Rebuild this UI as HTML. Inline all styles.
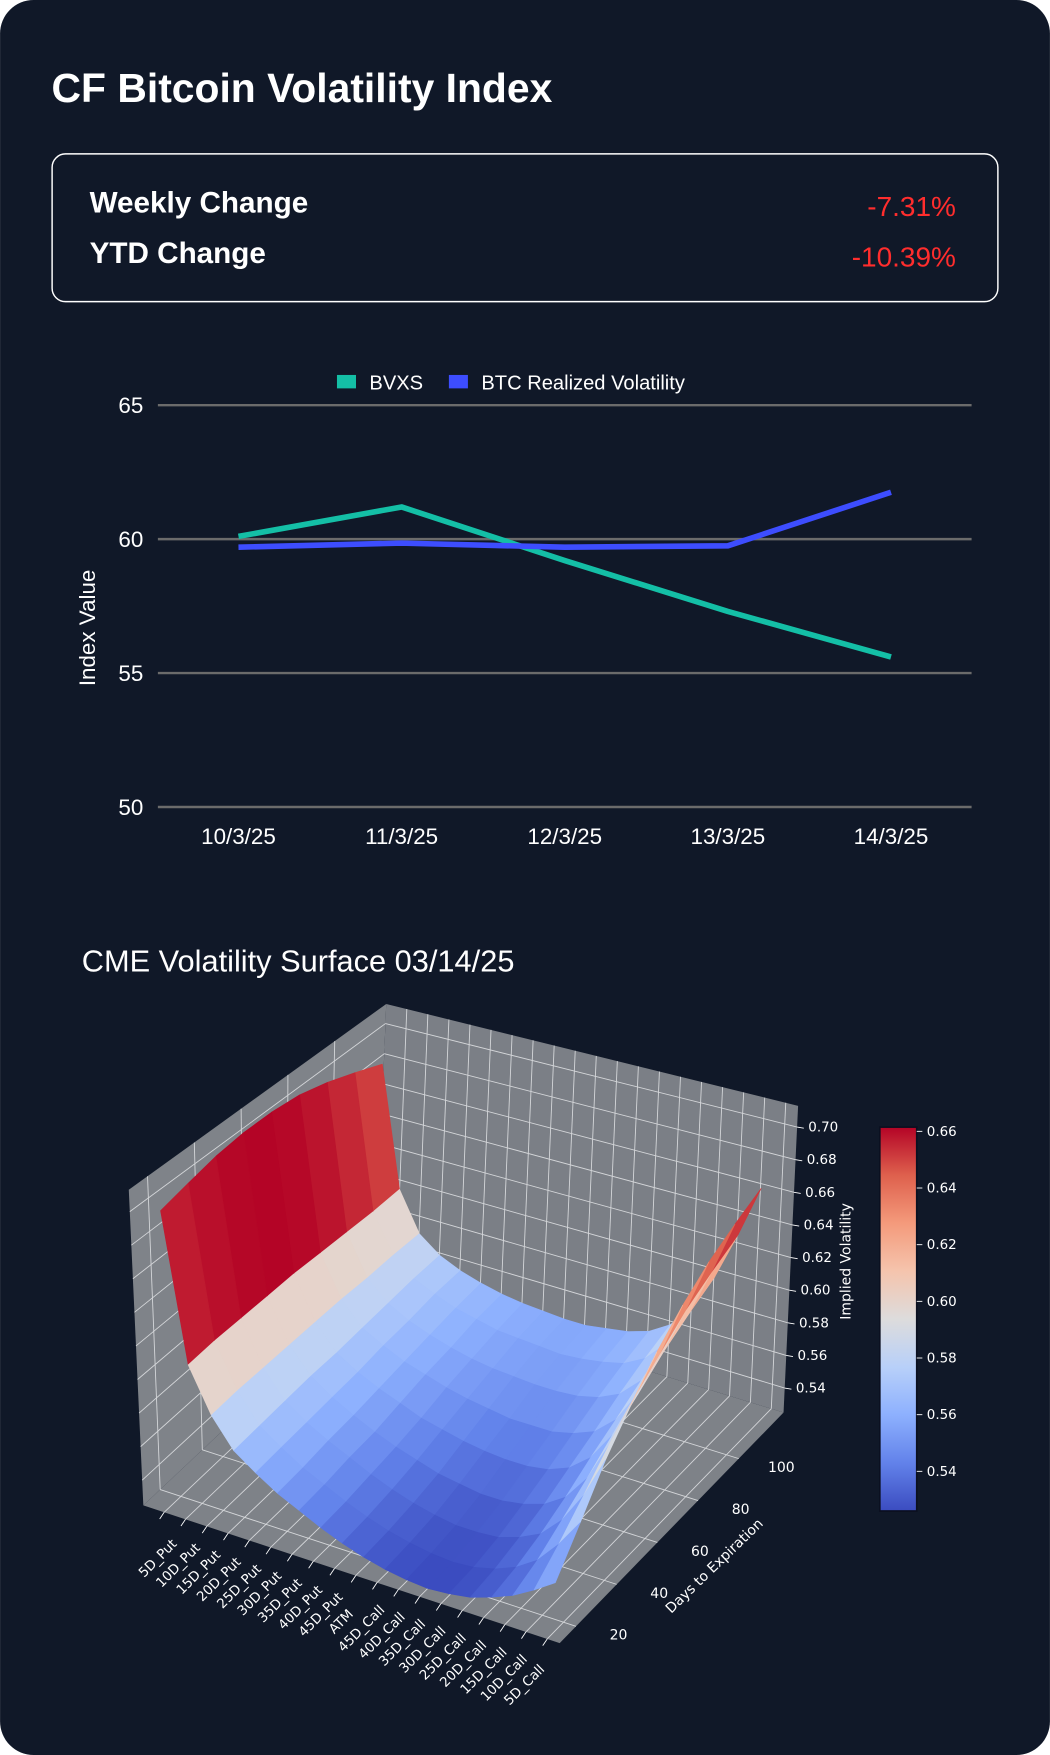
<!DOCTYPE html>
<html><head><meta charset="utf-8"><style>
html,body{margin:0;padding:0;background:#ffffff;}
svg{display:block;}
text{font-family:"Liberation Sans",sans-serif;}
.mpl{font-family:"DejaVu Sans","Liberation Sans",sans-serif;fill:#ffffff;}
</style></head><body>
<svg id="root" width="1050" height="1755" viewBox="0 0 938 1568" xmlns="http://www.w3.org/2000/svg">
<rect x="0" y="0" width="938" height="1568" rx="30" fill="#101828"/>
<text x="46" y="91" font-size="36.5" font-weight="bold" fill="#ffffff">CF Bitcoin Volatility Index</text>
<g>
<rect x="46.5" y="137.5" width="845" height="132" rx="12" fill="none" stroke="#ffffff" stroke-width="1.3"/>
<text x="80" y="190" font-size="26.5" font-weight="bold" fill="#ffffff">Weekly Change</text>
<text x="854" y="193" font-size="25" text-anchor="end" fill="#ff2d2d">-7.31%</text>
<text x="80" y="235" font-size="26.5" font-weight="bold" fill="#ffffff">YTD Change</text>
<text x="854" y="238" font-size="25" text-anchor="end" fill="#ff2d2d">-10.39%</text>
</g>
<g id="line-chart"></g>
<text x="73" y="868" font-size="27.5" fill="#ffffff">CME Volatility Surface 03/14/25</text>
<g id="surface"></g>
</svg>
<script>
// ---------- Line chart data ----------
const dates = ["10/3/25","11/3/25","12/3/25","13/3/25","14/3/25"];
const bvxs = [60.1, 61.2, 59.2, 57.3, 55.6];
const btcRealized = [59.7, 59.85, 59.7, 59.75, 61.75];
const yTicks = [50, 55, 60, 65];

// ---------- Surface data ----------
const strikes = ["5D_Put","10D_Put","15D_Put","20D_Put","25D_Put","30D_Put","35D_Put","40D_Put","45D_Put","ATM","45D_Call","40D_Call","35D_Call","30D_Call","25D_Call","20D_Call","15D_Call","10D_Call","5D_Call"];
const days = [16, 28, 40, 52, 64, 76, 88, 100, 112];
const iv16 = [.700,.612,.586,.569,.560,.552,.546,.540,.535,.531,.528,.526,.525,.526,.528,.532,.537,.544,.552];
const iv28 = [.704,.613,.587,.570,.561,.553,.547,.541,.536,.532,.529,.527,.526,.527,.530,.535,.543,.556,.572];
const iv40 = [.708,.613,.587,.571,.562,.555,.549,.543,.538,.534,.531,.529,.529,.530,.534,.540,.552,.570,.594];
const iv52 = [.710,.613,.587,.572,.563,.556,.550,.545,.541,.537,.535,.533,.533,.535,.539,.547,.562,.585,.612];
const iv64 = [.710,.613,.587,.572,.564,.558,.553,.548,.545,.542,.540,.539,.539,.541,.546,.556,.573,.599,.629];
const iv76 = [.708,.612,.587,.573,.566,.560,.556,.552,.549,.547,.545,.545,.545,.548,.553,.564,.583,.611,.643];
const iv88 = [.703,.611,.586,.574,.567,.562,.558,.555,.553,.552,.551,.551,.552,.555,.561,.573,.594,.623,.655];
const iv100 = [.696,.610,.586,.575,.569,.564,.561,.558,.557,.556,.555,.556,.558,.561,.568,.581,.603,.632,.664];
const iv112 = [.688,.610,.585,.575,.569,.565,.562,.560,.559,.558,.558,.560,.562,.566,.574,.588,.611,.640,.672];
const ivRows = [iv16, iv28, iv40, iv52, iv64, iv76, iv88, iv100, iv112];
const zTicks = [0.54,0.56,0.58,0.60,0.62,0.64,0.66,0.68,0.70];
const dayTicks = [20,40,60,80,100];
const cbTicks = [0.54,0.56,0.58,0.60,0.62,0.64,0.66];

const NS = "http://www.w3.org/2000/svg";
function mk(tag, attrs, parent){ const e=document.createElementNS(NS,tag); for(const k in attrs) e.setAttribute(k,attrs[k]); parent.appendChild(e); return e; }

// ---------- Line chart ----------
(function(){
  const g = document.getElementById("line-chart");
  const x0=141, x1=868, yTop=362, yBot=721;
  const yS = v => yBot - (v-50)/(65-50)*(yBot-yTop);
  const xS = i => 213 + i*145.75;
  yTicks.forEach(t=>{
    const ln = mk("line",{x1:x0,x2:x1,y1:yS(t),y2:yS(t),stroke:"#6b6b6b","stroke-width":2.2},g);
    
    
    const tx = mk("text",{x:128,y:yS(t)+7,"font-size":20,"text-anchor":"end",fill:"#ffffff"},g);
    
    
    tx.textContent=t;
  });
  dates.forEach((d,i)=>{
    const tx = mk("text",{x:xS(i),y:754,"font-size":20,"text-anchor":"middle",fill:"#ffffff"},g);
    
    
    tx.textContent=d;
  });
  const yl = mk("text",{x:0,y:0,"font-size":20,"text-anchor":"middle",fill:"#ffffff",transform:"translate(85,561) rotate(-90)"},g);
  
  
  yl.textContent="Index Value";
  const series=[[bvxs,"#14bfa6","bvxs-line"],[btcRealized,"#3d4dff","btc-realized-line"]];
  series.forEach(s=>{
    const pts = s[0].map((v,i)=>xS(i)+","+yS(v)).join(" ");
    const pl = mk("polyline",{points:pts,fill:"none",stroke:s[1],"stroke-width":5,"stroke-linejoin":"round"},g);
    
    
  });
  const l1 = mk("rect",{x:301,y:335,width:17,height:12,fill:"#14bfa6"},g);
  
  
  const t1 = mk("text",{x:330,y:348,"font-size":18,fill:"#ffffff"},g);
  
  
  t1.textContent="BVXS";
  const l2 = mk("rect",{x:401,y:335,width:17,height:12,fill:"#3d4dff"},g);
  
  
  const t2 = mk("text",{x:430,y:348,"font-size":18,fill:"#ffffff"},g);
  
  
  t2.textContent="BTC Realized Volatility";
})();

// ---------- Surface ----------
(function(){
  const g = document.getElementById("surface");
  const B00=[128,1345],B10=[500,1468],B11=[700,1262],B01=[335,1150];
  const T00=[115,1063],T10=[500,1168],T11=[713,988],T01=[345,897];
  const zMin=0.525, zMax=0.713, dMin=12, dMax=122;
  function bil(a,b,c,d,u,v){ return [ (a[0]*(1-u)+b[0]*u)*(1-v)+(d[0]*(1-u)+c[0]*u)*v, (a[1]*(1-u)+b[1]*u)*(1-v)+(d[1]*(1-u)+c[1]*u)*v ]; }
  function P(u,v,w){ const b=bil(B00,B10,B11,B01,u,v), t=bil(T00,T10,T11,T01,u,v); return [b[0]+w*(t[0]-b[0]), b[1]+w*(t[1]-b[1])]; }
  const uS = s => 0.05 + s*0.92/(strikes.length-1);
  const vD = d => (d-dMin)/(dMax-dMin);
  const wZ = z => (z-zMin)/(zMax-zMin);
  const pstr = arr => arr.map(p=>p[0].toFixed(1)+","+p[1].toFixed(1)).join(" ");
  const floor = mk("polygon",{points:pstr([P(0,0,0),P(1,0,0),P(1,1,0),P(0,1,0)]),fill:"#7e8288"},g);
  
  
  const left = mk("polygon",{points:pstr([P(0,0,0),P(0,1,0),P(0,1,1),P(0,0,1)]),fill:"#7f8389"},g);
  
  
  const back = mk("polygon",{points:pstr([P(0,1,0),P(1,1,0),P(1,1,1),P(0,1,1)]),fill:"#7b7f86"},g);
  
  
  const gl = (a,b)=>{ const l=mk("line",{x1:a[0],y1:a[1],x2:b[0],y2:b[1],stroke:"#d4d6d9","stroke-width":0.8},g);   };
  strikes.forEach((s,i)=>{ gl(P(uS(i),1,0),P(uS(i),1,1)); gl(P(uS(i),0,0),P(uS(i),1,0)); });
  zTicks.forEach(z=>{ gl(P(0,1,wZ(z)),P(1,1,wZ(z))); gl(P(0,0,wZ(z)),P(0,1,wZ(z))); });
  dayTicks.forEach(d=>{ gl(P(0,vD(d),0),P(0,vD(d),1)); gl(P(0,vD(d),0),P(1,vD(d),0)); });
  const faces=[];
  for(let r=0;r<days.length-1;r++){
    for(let s=0;s<strikes.length-1;s++){
      const u0=uS(s),u1=uS(s+1),v0=vD(days[r]),v1=vD(days[r+1]);
      const z00=ivRows[r][s],z10=ivRows[r][s+1],z11=ivRows[r+1][s+1],z01=ivRows[r+1][s];
      const avg=(z00+z10+z11+z01)/4;
      faces.push({pts:[P(u0,v0,wZ(z00)),P(u1,v0,wZ(z10)),P(u1,v1,wZ(z11)),P(u0,v1,wZ(z01))],avg,depth:195*(v0+v1)/2-123*(u0+u1)/2});
    }
  }
  const vmin=Math.min(...faces.map(f=>f.avg)), vmax=Math.max(...faces.map(f=>f.avg));
  const stops=[[0,59,76,192],[0.125,98,130,234],[0.25,141,176,254],[0.375,184,208,249],[0.5,221,220,220],[0.625,245,196,173],[0.75,244,154,123],[0.875,222,96,77],[1,180,4,38]];
  function cw(t){ t=Math.max(0,Math.min(1,t)); for(let i=1;i<stops.length;i++){ if(t<=stops[i][0]){ const a=stops[i-1],b=stops[i],f=(t-a[0])/(b[0]-a[0]); return "rgb("+Math.round(a[1]+f*(b[1]-a[1]))+","+Math.round(a[2]+f*(b[2]-a[2]))+","+Math.round(a[3]+f*(b[3]-a[3]))+")"; } } return "rgb(180,4,38)"; }
  faces.sort((a,b)=>b.depth-a.depth);
  faces.forEach(f=>{
    const c=cw((f.avg-vmin)/(vmax-vmin));
    const pg=mk("polygon",{points:pstr(f.pts),fill:c,stroke:c,"stroke-width":0.6,"stroke-linejoin":"round"},g);
    
    
  });
  strikes.forEach((s,i)=>{
    const u=uS(i), p=P(u,0,0);
    const tk=mk("line",{x1:p[0],y1:p[1],x2:p[0]-4,y2:p[1]+6,stroke:"#ffffff","stroke-width":0.8},g);
    
    
    const cx=p[0]-5-16*u, cy=p[1]+41;
    const t=mk("text",{x:cx,y:cy+4,"font-size":12,"text-anchor":"middle",class:"mpl",transform:"rotate(-45 "+cx+" "+cy+")"},g);
    
    
    t.textContent=s;
  });
  dayTicks.forEach(d=>{
    const p=P(1,vD(d),0);
    const t=mk("text",{x:p[0]+38,y:p[1]+12,"font-size":12.5,"text-anchor":"middle",class:"mpl"},g);
    
    
    t.textContent=d;
  });
  zTicks.forEach(z=>{
    const p=P(1,1,wZ(z));
    const tk=mk("line",{x1:p[0],y1:p[1],x2:p[0]+6,y2:p[1]+1,stroke:"#ffffff","stroke-width":0.8},g);
    
    
    const t=mk("text",{x:p[0]+10,y:p[1]+4,"font-size":12,class:"mpl"},g);
    
    
    t.textContent=z.toFixed(2);
  });
  const dl=mk("text",{x:0,y:0,"font-size":12.5,"text-anchor":"middle",class:"mpl",transform:"translate(641,1402) rotate(-44)"},g);
  
  
  dl.textContent="Days to Expiration";
  const il=mk("text",{x:0,y:0,"font-size":12.5,"text-anchor":"middle",class:"mpl",transform:"translate(760,1127) rotate(-90)"},g);
  
  
  il.textContent="Implied Volatility";
  const cbX=786, cbW=33, cbT=1007, cbB=1350;
  const defs=mk("defs",{},g);
  const lg=mk("linearGradient",{id:"cwg",x1:0,y1:1,x2:0,y2:0},defs);
  stops.forEach(s=>{ mk("stop",{offset:s[0],"stop-color":"rgb("+s[1]+","+s[2]+","+s[3]+")"},lg); });
  const cb=mk("rect",{x:cbX,y:cbT,width:cbW,height:cbB-cbT,fill:"url(#cwg)",stroke:"#0b1020","stroke-width":1.5},g);
  
  
  cbTicks.forEach(v=>{
    const y=cbB-(v-vmin)/(vmax-vmin)*(cbB-cbT);
    const tk=mk("line",{x1:cbX+cbW,y1:y,x2:cbX+cbW+5,y2:y,stroke:"#ffffff","stroke-width":0.8},g);
    
    
    const t=mk("text",{x:cbX+cbW+9,y:y+4,"font-size":12,class:"mpl"},g);
    
    
    t.textContent=v.toFixed(2);
  });
})();
</script>
</body></html>
